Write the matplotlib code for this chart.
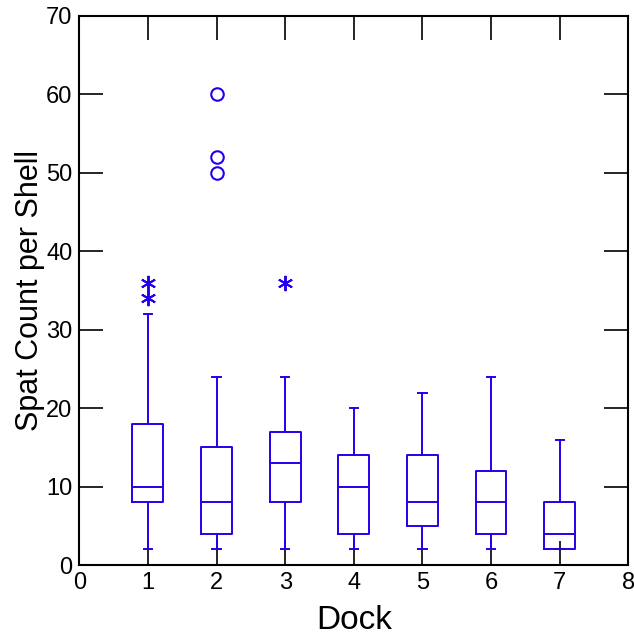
import matplotlib.pyplot as plt

plt.rcParams['font.family'] = ['Liberation Sans', 'DejaVu Sans']

# box plot summary
docks = [1, 2, 3, 4, 5, 6, 7]
whisker_low = [2, 2, 2, 2, 2, 2, 2]
q1 = [8, 4, 8, 4, 5, 4, 2]
medians = [10, 8, 13, 10, 8, 8, 4]
q3 = [18, 15, 17, 14, 14, 12, 8]
whisker_high = [32, 24, 24, 20, 22, 24, 16]

# outside values (asterisks) and far outside values (circles)
near_dock = [1, 1, 3]
near_vals = [34, 36, 36]
far_dock = [2, 2, 2]
far_vals = [50, 52, 60]

blue = '#2200ee'

fig = plt.figure(figsize=(6.34, 6.35), dpi=100)
ax = fig.add_axes([0.125, 0.110, 0.866, 0.865])

stats = []
for i in range(len(docks)):
    stats.append({'whislo': whisker_low[i], 'q1': q1[i], 'med': medians[i],
                  'q3': q3[i], 'whishi': whisker_high[i], 'fliers': []})

line = dict(color=blue, linewidth=1.4)
ax.bxp(stats, positions=docks, widths=0.45, showfliers=False,
       boxprops=line, medianprops=line, whiskerprops=line,
       capprops=line, capwidths=0.12, manage_ticks=False)

ax.plot(near_dock, near_vals, linestyle='none', marker=(6, 2, 0),
        markersize=11, markeredgecolor=blue, markeredgewidth=1.4)
ax.plot(far_dock, far_vals, linestyle='none', marker='o', markersize=9,
        markerfacecolor='none', markeredgecolor=blue, markeredgewidth=1.5)

ax.set_xlim(0, 8)
ax.set_ylim(0, 70)
ax.set_xticks(range(0, 9))
ax.set_yticks(range(0, 71, 10))
ax.tick_params(direction='in', length=17, width=1.2, top=True, right=True,
               labelsize=17, pad=5, colors='black')
for s in ax.spines.values():
    s.set_linewidth(1.5)

ax.set_xlabel('Dock', fontsize=24, labelpad=8)
ax.set_ylabel('Spat Count per Shell', fontsize=22, labelpad=1)

fig.savefig('out.png', dpi=100)
